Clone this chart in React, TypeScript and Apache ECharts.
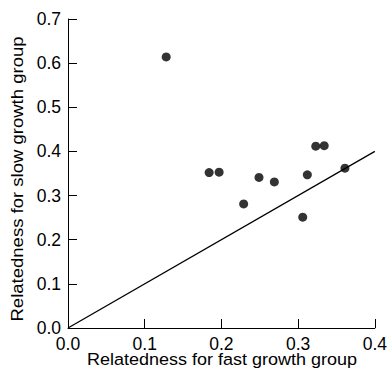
import React, { useEffect, useRef } from "react";
import * as echarts from "echarts";

const fastGrowth = [0.128, 0.184, 0.197, 0.229, 0.249, 0.269, 0.306, 0.312, 0.323, 0.334, 0.361];
const slowGrowth = [0.614, 0.352, 0.353, 0.281, 0.341, 0.331, 0.251, 0.347, 0.412, 0.413, 0.362];
const identityLine = [[0, 0], [0.4, 0.4]];
const xTitle = "Relatedness for fast growth group";
const yTitle = "Relatedness for slow growth group";

export default function App() {
  const ref = useRef<HTMLDivElement>(null);
  useEffect(() => {
    document.body.style.margin = "0";
    const chart = echarts.init(ref.current!, null, { renderer: "svg" });
    const font = "'Liberation Sans', Arial, sans-serif";
    chart.setOption({
      animation: false,
      backgroundColor: "#fff",
      grid: { left: 68, right: 12, top: 19, bottom: 48, containLabel: false },
      xAxis: {
        type: "value",
        min: 0,
        max: 0.4,
        interval: 0.1,
        axisLine: { show: true, lineStyle: { color: "#000", width: 1 } },
        axisTick: { show: true, inside: true, length: 9, lineStyle: { color: "#000" } },
        splitLine: { show: false },
        axisLabel: {
          color: "#000",
          fontFamily: font,
          fontSize: 17.5,
          lineHeight: 14,
          margin: 9,
          formatter: (v: number) => v.toFixed(1),
        },
      },
      yAxis: {
        type: "value",
        min: 0,
        max: 0.7,
        interval: 0.1,
        axisLine: { show: true, lineStyle: { color: "#000", width: 1 } },
        axisTick: { show: true, inside: true, length: 9, lineStyle: { color: "#000" } },
        splitLine: { show: false },
        axisLabel: {
          color: "#000",
          fontFamily: font,
          fontSize: 17.5,
          margin: 7,
          formatter: (v: number) => v.toFixed(1),
        },
      },
      graphic: [
        {
          type: "text",
          x: 222,
          y: 359,
          scaleX: 1.06,
          style: {
            text: xTitle,
            fill: "#000",
            font: `17px ${font}`,
            lineHeight: 14,
            textAlign: "center",
            textVerticalAlign: "middle",
          },
        },
        {
          type: "text",
          x: 17,
          y: 179,
          rotation: Math.PI / 2,
          scaleX: 1.09,
          style: {
            text: yTitle,
            fill: "#000",
            font: `17px ${font}`,
            textAlign: "center",
            textVerticalAlign: "middle",
          },
        },
      ],
      series: [
        {
          type: "line",
          data: identityLine,
          showSymbol: false,
          symbol: "none",
          lineStyle: { color: "#000", width: 1.3 },
          silent: true,
        },
        {
          type: "scatter",
          data: fastGrowth.map((x, i) => [x, slowGrowth[i]]),
          symbol: "circle",
          symbolSize: 9,
          itemStyle: { color: "#000" },
        },
      ],
    });
    return () => chart.dispose();
  }, []);
  return (
    <div
      ref={ref}
      style={{ position: "absolute", left: 0, top: 0, width: 390, height: 376 }}
    />
  );
}
